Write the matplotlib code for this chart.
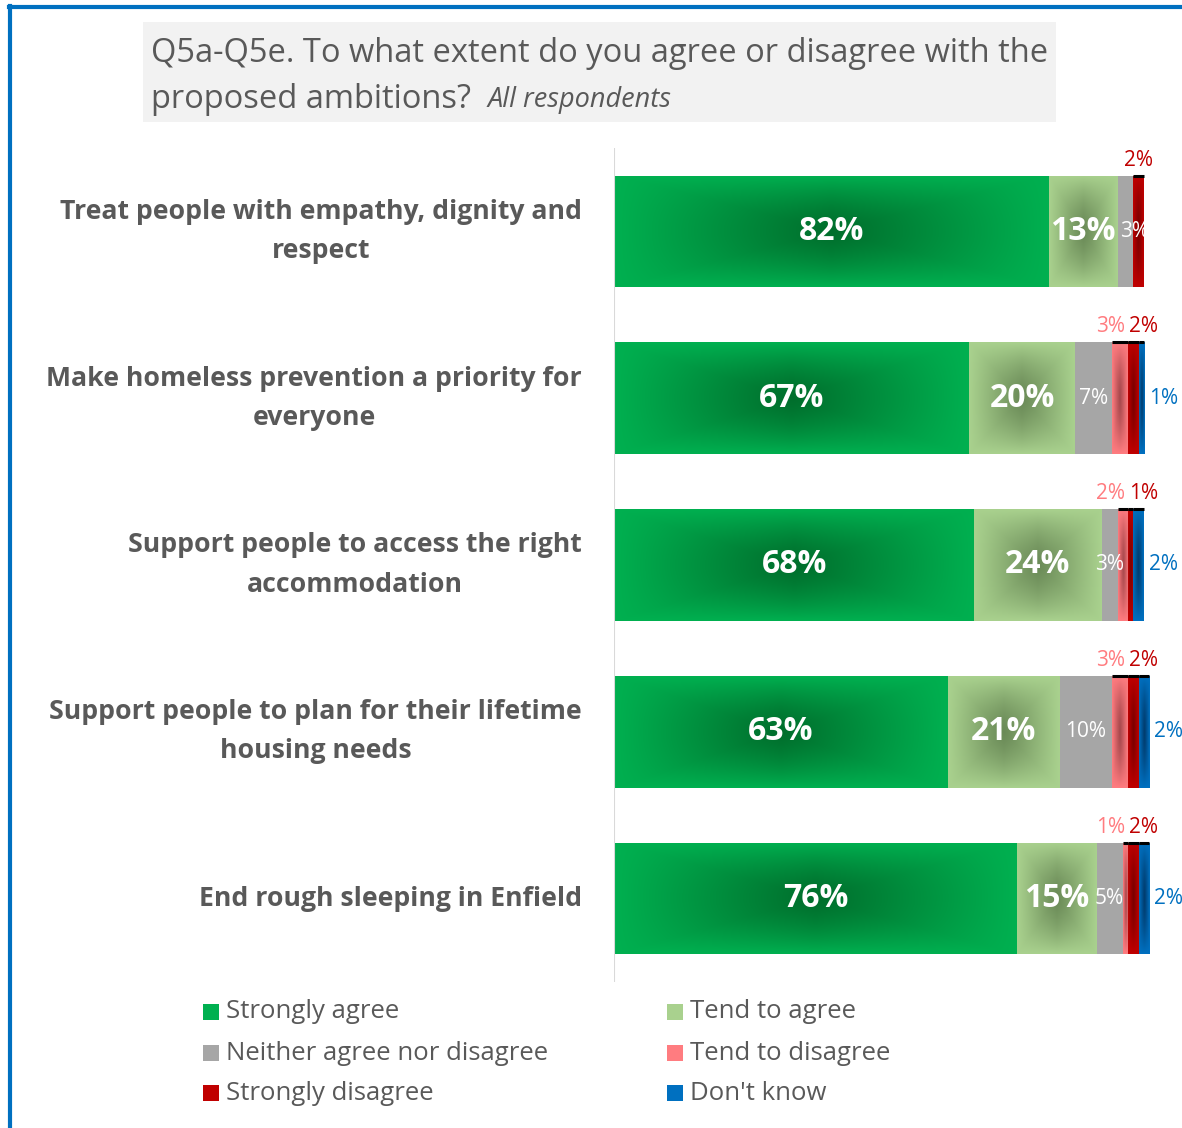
import numpy as np
import matplotlib
matplotlib.use("Agg")
import matplotlib.pyplot as plt
from matplotlib.patches import Rectangle
from matplotlib.lines import Line2D

plt.rcParams['font.family'] = ['Open Sans', 'DejaVu Sans']

# ---- data ----
categories = [
    "Treat people with empathy, dignity and\nrespect",
    "Make homeless prevention a priority for\neveryone",
    "Support people to access the right\naccommodation",
    "Support people to plan for their lifetime\nhousing needs",
    "End rough sleeping in Enfield",
]
series_names = ["Strongly agree", "Tend to agree", "Neither agree nor disagree",
                "Tend to disagree", "Strongly disagree", "Don't know"]
strongly_agree = [82, 67, 68, 63, 76]
tend_agree = [13, 20, 24, 21, 15]
neither = [3, 7, 3, 10, 5]
tend_disagree = [0, 3, 2, 3, 1]
strongly_disagree = [2, 2, 1, 2, 2]
dont_know = [0, 1, 2, 2, 2]

title_line1 = "Q5a-Q5e. To what extent do you agree or disagree with the"
title_line2 = "proposed ambitions?  "
title_sub = "All respondents"

# ---- styling ----
W, H = 1182, 1128
edge_cols = ["#00B050", "#A9D18E", "#A6A6A6", "#FF7C80", "#C00000", "#0070C0"]
center_cols = ["#006E2C", "#6A8A57", None, "#A5474B", "#780000", "#003A6B"]
text_grey = "#595959"

fig = plt.figure(figsize=(W / 100, H / 100), dpi=100)


def fx(px):
    return px / W


def fy(py):
    return 1 - py / H


# frame lines
fig.add_artist(Line2D([fx(10), fx(10)], [fy(6), 0], color="#0070C0", lw=3.0))
fig.add_artist(Line2D([fx(8.5), 1], [fy(6.5), fy(6.5)], color="#0070C0", lw=3.0))

# title box
fig.add_artist(Rectangle((fx(143), fy(122)), fx(1056) - fx(143), fy(22) - fy(122),
                         transform=fig.transFigure, facecolor="#F2F2F2", edgecolor="none"))
fig.text(fx(151), fy(53), title_line1, fontsize=23.5, color=text_grey,
         va="center", ha="left")
t2 = fig.text(fx(151), fy(99), title_line2, fontsize=23.5, color=text_grey,
              va="center", ha="left")
fig.canvas.draw()
bb = t2.get_window_extent()
fig.text(bb.x1 / W, fy(100), title_sub, fontsize=19.5, style="italic",
         color=text_grey, va="center", ha="left")

# axes
x0, x1 = 614, 1182
top, bottom = 148, 982
ax = fig.add_axes([fx(x0), fy(bottom), fx(x1) - fx(x0), fy(top) - fy(bottom)])
px_per_pct = 5.3
ax.axis("off")
ax.axvline(0, color="#D9D9D9", lw=1.5)

y = np.arange(len(categories))
bar_h = 0.67
series = [strongly_agree, tend_agree, neither, tend_disagree, strongly_disagree, dont_know]


def gradient_image(edge, center, n=128):
    e = np.array(matplotlib.colors.to_rgb(edge))
    c = np.array(matplotlib.colors.to_rgb(center))
    u = np.linspace(-1, 1, n)
    U, V = np.meshgrid(u, u)
    rect = 1 - np.maximum(np.abs(U), np.abs(V))
    prod = (1 - np.abs(U)) * (1 - V ** 2)
    w = 0.35 * rect + 0.65 * prod
    img = e[None, None, :] * (1 - w[..., None]) + c[None, None, :] * w[..., None]
    return img


left = np.zeros(len(categories))
containers = []
for k, vals in enumerate(series):
    vals = np.array(vals, dtype=float)
    bars = ax.barh(y, vals, left=left, height=bar_h, color=edge_cols[k],
                   edgecolor="none", label=series_names[k])
    containers.append((bars, left.copy(), vals))
    if center_cols[k] is not None:
        img = gradient_image(edge_cols[k], center_cols[k])
        for b, v in zip(bars, vals):
            if v <= 0:
                continue
            bx, by = b.get_x(), b.get_y()
            bw, bh = b.get_width(), b.get_height()
            im = ax.imshow(img, extent=(bx, bx + bw, by + bh, by), aspect="auto",
                           interpolation="bilinear", zorder=b.get_zorder() + 0.1)
            im.set_clip_path(b)
    left = left + vals

ax.set_xlim(0, (x1 - x0) / px_per_pct)
ax.set_ylim(len(categories) - 0.5, -0.5)

# thin dark cap on the small disagree / don't know segments
for k in (3, 4, 5):
    bars, lf, vals = containers[k]
    for b, v in zip(bars, vals):
        if v > 0:
            ax.plot([b.get_x(), b.get_x() + b.get_width()], [b.get_y(), b.get_y()],
                    color="black", lw=2.2, solid_capstyle="butt", zorder=5)

# value labels
sa_bars, sa_left, sa_vals = containers[0]
ta_bars, ta_left, ta_vals = containers[1]
ne_bars, ne_left, ne_vals = containers[2]
td_bars, td_left, td_vals = containers[3]
sd_bars, sd_left, sd_vals = containers[4]
dk_bars, dk_left, dk_vals = containers[5]

small = 15
fig.canvas.draw()
renderer = fig.canvas.get_renderer()
for i in range(len(categories)):
    yc = y[i]
    ytop = yc - bar_h / 2
    ax.text(sa_left[i] + sa_vals[i] / 2, yc, f"{int(sa_vals[i])}%", color="white",
            fontsize=23, fontweight="bold", ha="center", va="center", zorder=6)
    t_ta = ax.text(ta_left[i] + ta_vals[i] / 2, yc, f"{int(ta_vals[i])}%", color="white",
                   fontsize=23, fontweight="bold", ha="center", va="center", zorder=6)
    t_ne = ax.text(ne_left[i] + ne_vals[i] / 2, yc, f"{int(ne_vals[i])}%", color="white",
                   fontsize=small, ha="center", va="center", zorder=6)
    # nudge the neutral label right if it runs into the tend-to-agree label
    b_ta = t_ta.get_window_extent(renderer)
    b_ne = t_ne.get_window_extent(renderer)
    if b_ne.x0 < b_ta.x1 + 3:
        shift_px = b_ta.x1 + 4 - b_ne.x0
        xpos, ypos = t_ne.get_position()
        t_ne.set_position((xpos + shift_px / px_per_pct, ypos))
    boundary = td_left[i] + td_vals[i]
    if td_vals[i] > 0:
        ax.text(boundary - 0.6, ytop - 0.03, f"{int(td_vals[i])}%", color="#FF7C80",
                fontsize=small, ha="right", va="bottom", zorder=6)
        ax.text(boundary + 0.2, ytop - 0.03, f"{int(sd_vals[i])}%", color="#C00000",
                fontsize=small, ha="left", va="bottom", zorder=6)
    else:
        ax.text(sd_left[i] + sd_vals[i] / 2, ytop - 0.03, f"{int(sd_vals[i])}%",
                color="#C00000", fontsize=small, ha="center", va="bottom", zorder=6)
    if dk_vals[i] > 0:
        ax.text(dk_left[i] + dk_vals[i] + 0.9, yc, f"{int(dk_vals[i])}%", color="#0070C0",
                fontsize=small, ha="left", va="center", zorder=6)

# category labels
for i, c in enumerate(categories):
    yc_px = top + (i + 0.5) * (bottom - top) / len(categories)
    fig.text(fx(582), fy(yc_px), c, fontsize=19.2, fontweight="bold", color=text_grey,
             ha="right", va="center", multialignment="center", linespacing=1.66)

# legend
leg_rows = [1012, 1053, 1093]
leg_cols = [204, 668]
order = [[0, 1], [2, 3], [4, 5]]
for r, row in enumerate(order):
    for c, k in enumerate(row):
        sx, sy = leg_cols[c], leg_rows[r]
        fig.add_artist(Rectangle((fx(sx - 1), fy(sy + 8)), fx(16), 16 / H,
                                 transform=fig.transFigure, facecolor=edge_cols[k],
                                 edgecolor="none"))
        fig.text(fx(sx + 22), fy(sy), series_names[k], fontsize=18.5, color=text_grey,
                 ha="left", va="center")

fig.savefig("out.png", dpi=100)
